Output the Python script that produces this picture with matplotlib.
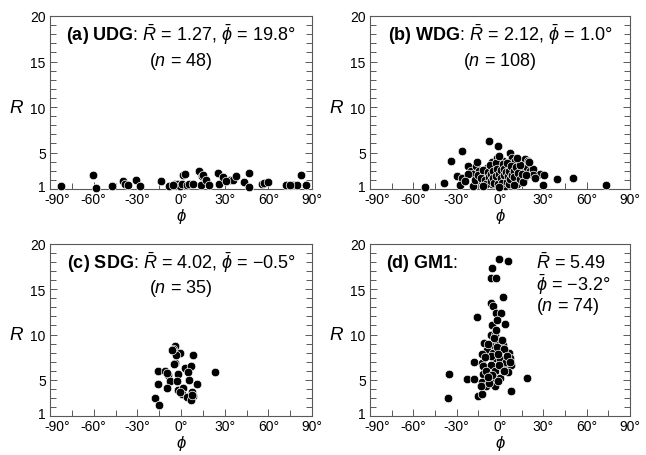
import matplotlib

matplotlib.use("Agg")
import matplotlib.pyplot as plt  # noqa: E402
import matplotlib.transforms as mtransforms  # noqa: E402
from matplotlib.ticker import MultipleLocator, FixedLocator  # noqa: E402

plt.rcParams["font.family"] = ["Liberation Sans", "DejaVu Sans"]
plt.rcParams["mathtext.fontset"] = "custom"
plt.rcParams["mathtext.rm"] = "Liberation Sans"
plt.rcParams["mathtext.it"] = "Liberation Sans:italic"
plt.rcParams["mathtext.bf"] = "Liberation Sans:bold"

# (a) UDG
phi_a = [-82.7, -60.7, -58.6, -47.2, -39.6, -38.5, -36.2, -30.9, -28.2, -14.0,
         -8.1, -4.1, -1.9, -0.7, 0.5, 1.1, 2.7, 3.9, 5.5, 12.3,
         13.9, 14.2, 15.3, 17.1, 19.4, 25.6, 26.3, 29.1, 33.6, 35.4,
         37.8, 43.2, 46.7, 46.7, 55.4, 57.0, 59.9, 72.1, 77.1, 79.9,
         82.2, 85.6, -5.5, 8.0, 31.0, 75.0]
R_a = [1.3, 2.57, 1.1, 1.3, 1.9, 1.6, 1.4, 2.0, 1.3, 1.9,
       1.3, 1.5, 1.6, 1.3, 1.55, 2.5, 2.65, 1.4, 1.6, 3.0,
       1.4, 2.4, 2.5, 2.0, 1.4, 2.8, 1.55, 2.3, 2.0, 2.0,
       2.4, 1.8, 2.75, 1.2, 1.55, 1.7, 1.8, 1.45, 1.4, 1.4,
       2.5, 1.4, 1.4, 1.5, 1.9, 1.4]

# (b) WDG
phi_b = [-51.7, -38.8, -33.9, -26.1, -29.5, -26.5, -27.7, -21.9, -20.3, -16.6,
         -18.4, -18.9, -14.3, -17.3, -12.6, -9.2, -7.4, -1.1, -5.7, -4.6,
         -2.3, -9.2, -8.1, -5.7, -3.4, 0.0, 1.2, 2.3, 3.5, -0.5,
         3.5, 7.0, 8.1, 5.8, 8.1, 10.4, 9.2, 11.6, 13.4, 15.0,
         17.3, 19.6, 18.5, 20.8, 16.6, 22.0, 27.7, 30.5, 30.0, 39.3,
         50.3, 73.4, 23.1, 23.1, 20.3, 10.4,
         -15.5, -13.0, -11.5, -10.5, -10.0, -8.5, -7.5, -6.8, -6.5, -6.0,
         -5.0, -4.8, -4.0, -3.0, -2.5, -2.0, -1.5, -1.0, -0.5, 0.5,
         1.0, 1.5, 2.0, 2.8, 3.0, 4.0, 4.5, 4.8, 5.5, 6.0,
         6.5, 7.0, 7.5, 8.5, 9.5, 10.0, 11.0, 12.0, 12.5, 13.5,
         14.0, 15.5, 16.0, 18.0, -12.0, -1.0, 9.5, -22.5, -24.0, 24.5,
         -16.0, 12.0]
R_b = [1.25, 1.7, 4.1, 5.2, 2.4, 2.2, 1.45, 3.5, 3.0, 3.5,
       2.6, 1.3, 3.0, 1.95, 1.9, 2.6, 6.3, 5.7, 4.0, 3.4,
       4.4, 3.3, 1.9, 1.6, 2.8, 3.5, 2.8, 4.1, 2.2, 1.9,
       1.3, 5.0, 4.4, 3.3, 2.8, 3.7, 1.9, 2.1, 2.6, 3.2,
       4.3, 4.1, 3.3, 3.0, 2.2, 2.6, 2.65, 2.5, 1.44, 2.1,
       2.2, 1.44, 3.2, 2.5, 4.0, 4.1,
       2.5, 2.2, 3.1, 2.0, 1.5, 2.9, 2.3, 3.6, 1.9, 2.7,
       3.0, 2.2, 1.7, 3.9, 2.4, 3.2, 1.5, 2.7, 4.6, 2.2,
       3.1, 1.7, 3.7, 2.5, 3.2, 2.9, 1.8, 3.9, 2.4, 1.6,
       3.0, 2.1, 3.5, 2.5, 3.0, 2.3, 3.4, 1.6, 2.8, 3.6,
       2.1, 2.6, 1.8, 2.5, 1.3, 1.2, 1.4, 2.6, 1.9, 2.2,
       4.0, 4.4]

# (c) SDG
phi_c = [-4.1, -5.7, -3.0, -0.7, 8.4, -4.1, 2.7, 6.6, 5.0, -15.6,
         -11.0, -8.7, -1.9, 23.3, -15.6, -7.6, -2.6, 5.7, 11.2, -9.4,
         -1.9, 1.6, 0.5, 7.3, 8.4, 3.9, 6.6, -17.9, -15.1, -3.5,
         -9.5, -4.6, 7.8, -1.0, -6.0]
R_c = [8.77, 8.4, 7.96, 7.96, 7.7, 6.86, 6.27, 6.56, 5.9, 6.0,
       6.0, 5.5, 5.6, 5.9, 4.5, 4.9, 4.9, 5.0, 4.5, 4.06,
       3.9, 4.06, 3.43, 3.6, 3.24, 3.07, 2.8, 2.95, 2.2, 7.7,
       5.7, 6.7, 3.3, 3.6, 8.3]

# (d) GM1
phi_d = [-0.9, 5.5, -5.3, -6.0, -2.5, 2.1, -6.0, -4.8, -15.7, -2.5,
         0.9, -5.3, 3.2, -2.1,
         -6.2, -3.5, -10.9, -6.9, -1.2, 1.8, -8.8, -5.1, 0.0, 6.2,
         -12.2, -3.5, 0.0, 6.9, -17.8, -12.7, -11.5, -6.2, -3.5, 1.8,
         5.1, 7.4, 5.8, -35.1, -11.5, -3.5, 0.0, -22.8, -18.2, -12.2,
         18.5, -3.5, -9.7, 7.8, -15.4, -12.2, -35.8,
         -4.0, -8.0, -2.0, 3.0, -6.5, -1.5, 4.0, -9.5, -0.5, 2.8,
         -5.5, -1.5, -13.0, -7.5, 4.5, -10.5, 1.5, -3.0, 6.8, -8.5]
R_d = [18.3, 18.1, 17.3, 16.2, 16.2, 14.2, 13.5, 13.1, 11.9, 12.4,
       12.4, 11.1, 11.2, 11.6,
       9.9, 9.9, 9.1, 8.85, 9.1, 8.8, 8.3, 8.0, 8.3, 8.0,
       7.8, 7.4, 7.3, 7.4, 7.0, 6.8, 6.5, 6.6, 6.0, 6.3,
       6.5, 6.6, 5.9, 5.6, 5.6, 5.2, 5.2, 5.1, 5.1, 4.8,
       5.2, 4.35, 4.3, 3.8, 3.2, 3.4, 2.95,
       9.6, 9.0, 8.6, 8.4, 7.6, 7.8, 7.0, 6.0, 6.6, 6.0,
       5.5, 4.9, 4.3, 4.6, 7.6, 7.5, 9.4, 10.5, 7.0, 5.3]

x_ticks = [-90, -60, -30, 0, 30, 60, 90]
x_ticklabels = ["-90°", "-60°", "-30°", "0°", "30°", "60°", "90°"]
y_ticks = [1, 5, 10, 15, 20]

SPINE = "0.35"

fig = plt.figure(figsize=(6.46, 4.56), dpi=100)
W, H = 646, 456


def make_ax(left, top, right, bottom):
    return fig.add_axes([left / W, 1 - bottom / H, (right - left) / W, (bottom - top) / H])


def nudge(label, dx, dy):
    label.set_transform(label.get_transform()
                        + mtransforms.ScaledTranslation(dx / 100, dy / 100, fig.dpi_scale_trans))


def style(ax, phi, R):
    ax.scatter(phi, R, s=38, c="black", edgecolors="white", linewidths=0.5, zorder=3, clip_on=False)
    ax.set_xlim(-90, 90)
    ax.set_ylim(1, 20)
    ax.xaxis.set_major_locator(FixedLocator(x_ticks))
    ax.set_xticklabels(x_ticklabels)
    ax.xaxis.set_minor_locator(MultipleLocator(15))
    ax.yaxis.set_major_locator(FixedLocator(y_ticks))
    ax.yaxis.set_minor_locator(MultipleLocator(1))
    ax.tick_params(which="both", direction="in", right=True, top=False, colors=SPINE,
                   labelcolor="black", labelsize=10, width=0.7)
    ax.tick_params(which="major", length=5)
    ax.tick_params(which="minor", length=4)
    ax.tick_params(axis="x", which="major", pad=2)
    ax.tick_params(axis="y", which="major", pad=3)
    for sp in ax.spines.values():
        sp.set_color(SPINE)
        sp.set_linewidth(0.8)
    # keep "-90°" and the "1" apart, as in the original
    nudge(ax.get_xticklabels()[0], 7, 0)
    nudge(ax.get_yticklabels()[0], 0, 3)
    trans = mtransforms.blended_transform_factory(ax.transAxes, ax.transData)
    ax.text(-0.128, 10, "$R$", transform=trans, fontsize=13.5, ha="center", va="center")
    ax.text(0.5, -0.155, r"$\phi$", transform=ax.transAxes, fontsize=12, ha="center", va="center")


ax_a = make_ax(50, 17, 312, 190)
ax_b = make_ax(370, 17, 630, 190)
ax_c = make_ax(50, 245, 312, 417)
ax_d = make_ax(370, 245, 630, 417)

style(ax_a, phi_a, R_a)
style(ax_b, phi_b, R_b)
style(ax_c, phi_c, R_c)
style(ax_d, phi_d, R_d)

TS = 13
ax_a.text(0.5, 0.895, r"$\mathbf{(a)\ UDG}$: $\bar{R}$ = 1.27, $\bar{\phi}$ = 19.8°",
          transform=ax_a.transAxes, fontsize=TS, ha="center", va="center")
ax_a.text(0.5, 0.745, "($n$ = 48)", transform=ax_a.transAxes, fontsize=TS, ha="center", va="center")
ax_b.text(0.5, 0.895, r"$\mathbf{(b)\ WDG}$: $\bar{R}$ = 2.12, $\bar{\phi}$ = 1.0°",
          transform=ax_b.transAxes, fontsize=TS, ha="center", va="center")
ax_b.text(0.5, 0.745, "($n$ = 108)", transform=ax_b.transAxes, fontsize=TS, ha="center", va="center")
ax_c.text(0.5, 0.895, r"$\mathbf{(c)\ SDG}$: $\bar{R}$ = 4.02, $\bar{\phi}$ = −0.5°",
          transform=ax_c.transAxes, fontsize=TS, ha="center", va="center")
ax_c.text(0.5, 0.745, "($n$ = 35)", transform=ax_c.transAxes, fontsize=TS, ha="center", va="center")
ax_d.text(0.062, 0.895, r"$\mathbf{(d)\ GM1}$:", transform=ax_d.transAxes, fontsize=TS,
          ha="left", va="center")
ax_d.text(0.638, 0.895, r"$\bar{R}$ = 5.49", transform=ax_d.transAxes, fontsize=TS, ha="left", va="center")
ax_d.text(0.638, 0.77, r"$\bar{\phi}$ = −3.2°", transform=ax_d.transAxes, fontsize=TS, ha="left", va="center")
ax_d.text(0.638, 0.64, "($n$ = 74)", transform=ax_d.transAxes, fontsize=TS, ha="left", va="center")

fig.savefig("out.png", dpi=100)
